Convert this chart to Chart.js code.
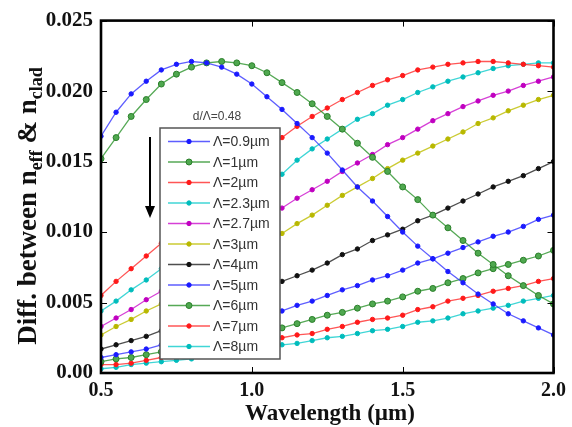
<!DOCTYPE html>
<html>
<head>
<meta charset="utf-8">
<script src="https://cdn.jsdelivr.net/npm/chart.js@4.4.1/dist/chart.umd.min.js"></script>
<style>
  html, body { margin: 0; padding: 0; background: #fff; }
  canvas { display: block; }
</style>
</head>
<body>
<canvas id="nChart" width="572" height="427"></canvas>
<script>
// wavelength samples (um)
var wavelength = [0.5, 0.55, 0.6, 0.65, 0.7, 0.75, 0.8, 0.85, 0.9, 0.95, 1.0, 1.05, 1.1, 1.15, 1.2, 1.25,
  1.3, 1.35, 1.4, 1.45, 1.5, 1.55, 1.6, 1.65, 1.7, 1.75, 1.8, 1.85, 1.9, 1.95, 2.0];

var seriesLabels = ['Λ=0.9µm', 'Λ=1µm', 'Λ=2µm', 'Λ=2.3µm', 'Λ=2.7µm', 'Λ=3µm', 'Λ=4µm', 'Λ=5µm', 'Λ=6µm', 'Λ=7µm', 'Λ=8µm'];

var pitch09 = [0.0168, 0.0185, 0.0198, 0.0207, 0.0215, 0.0219, 0.0221, 0.0220, 0.0217, 0.0212, 0.0205, 0.0196, 0.0187, 0.0177, 0.0167, 0.0156,
  0.0144, 0.0132, 0.0122, 0.0111, 0.0100, 0.0090, 0.0081, 0.0072, 0.0064, 0.0056, 0.0049, 0.0042, 0.0037, 0.0032, 0.0027];
var pitch1 = [0.0152, 0.0167, 0.0182, 0.0194, 0.0205, 0.0212, 0.0217, 0.0220, 0.0221, 0.0220, 0.0218, 0.0213, 0.0206, 0.0199, 0.0191, 0.0182,
  0.0173, 0.0163, 0.0153, 0.0143, 0.0132, 0.0123, 0.0112, 0.0103, 0.0094, 0.0085, 0.0077, 0.0069, 0.0062, 0.0055, 0.0049];
var pitch2 = [0.0055, 0.0065, 0.0074, 0.0083, 0.0092, 0.0101, 0.0110, 0.0119, 0.0128, 0.0137, 0.0146, 0.0156, 0.0167, 0.0175, 0.0182, 0.0188,
  0.0194, 0.0199, 0.0204, 0.0208, 0.0211, 0.0215, 0.0217, 0.0219, 0.0220, 0.0221, 0.0221, 0.0220, 0.0219, 0.0218, 0.0217];
var pitch23 = [0.0044, 0.0051, 0.0059, 0.0066, 0.0074, 0.0082, 0.0090, 0.0098, 0.0107, 0.0115, 0.0124, 0.0132, 0.0141, 0.0151, 0.0159, 0.0166,
  0.0173, 0.0180, 0.0184, 0.0190, 0.0194, 0.0199, 0.0203, 0.0207, 0.0210, 0.0213, 0.0216, 0.0218, 0.0219, 0.0220, 0.0220];
var pitch27 = [0.0033, 0.0039, 0.0045, 0.0052, 0.0058, 0.0065, 0.0072, 0.0079, 0.0087, 0.0095, 0.0102, 0.0110, 0.0117, 0.0124, 0.0130, 0.0136,
  0.0143, 0.0149, 0.0155, 0.0162, 0.0167, 0.0173, 0.0179, 0.0184, 0.0189, 0.0193, 0.0197, 0.0200, 0.0204, 0.0207, 0.0210];
var pitch3 = [0.0027, 0.0033, 0.0038, 0.0044, 0.0049, 0.0055, 0.0060, 0.0066, 0.0072, 0.0079, 0.0085, 0.0092, 0.0099, 0.0106, 0.0112, 0.0119,
  0.0126, 0.0132, 0.0138, 0.0145, 0.0151, 0.0156, 0.0161, 0.0166, 0.0171, 0.0177, 0.0181, 0.0186, 0.0190, 0.0194, 0.0197];
var pitch4 = [0.0017, 0.0020, 0.0023, 0.0026, 0.0030, 0.0034, 0.0038, 0.0042, 0.0047, 0.0051, 0.0055, 0.0060, 0.0065, 0.0069, 0.0073, 0.0078,
  0.0084, 0.0088, 0.0094, 0.0098, 0.0102, 0.0108, 0.0112, 0.0117, 0.0122, 0.0127, 0.0132, 0.0136, 0.0140, 0.0145, 0.0150];
var pitch5 = [0.0011, 0.0013, 0.0015, 0.0017, 0.0020, 0.0023, 0.0026, 0.0029, 0.0032, 0.0035, 0.0038, 0.0041, 0.0044, 0.0048, 0.0051, 0.0055,
  0.0059, 0.0062, 0.0066, 0.0069, 0.0073, 0.0078, 0.0081, 0.0085, 0.0089, 0.0093, 0.0097, 0.0100, 0.0104, 0.0109, 0.0112];
var pitch6 = [0.0008, 0.0010, 0.0011, 0.0013, 0.0015, 0.0017, 0.0019, 0.0021, 0.0024, 0.0026, 0.0028, 0.0030, 0.0032, 0.0035, 0.0038, 0.0041,
  0.0043, 0.0046, 0.0049, 0.0051, 0.0054, 0.0058, 0.0060, 0.0064, 0.0067, 0.0071, 0.0074, 0.0077, 0.0080, 0.0083, 0.0087];
var pitch7 = [0.0006, 0.0006, 0.0007, 0.0009, 0.0011, 0.0013, 0.0014, 0.0016, 0.0018, 0.0020, 0.0022, 0.0024, 0.0025, 0.0027, 0.0028, 0.0031,
  0.0033, 0.0036, 0.0038, 0.0039, 0.0041, 0.0045, 0.0047, 0.0051, 0.0053, 0.0055, 0.0058, 0.0060, 0.0062, 0.0065, 0.0067];
var pitch8 = [0.0003, 0.0004, 0.0006, 0.0007, 0.0008, 0.0009, 0.0010, 0.0012, 0.0013, 0.0015, 0.0017, 0.0018, 0.0020, 0.0021, 0.0023, 0.0025,
  0.0026, 0.0028, 0.0030, 0.0031, 0.0033, 0.0036, 0.0037, 0.0039, 0.0042, 0.0044, 0.0046, 0.0048, 0.0051, 0.0053, 0.0055];

var allSeries = [pitch09, pitch1, pitch2, pitch23, pitch27, pitch3, pitch4, pitch5, pitch6, pitch7, pitch8];

var xTicks = [0.5, 1.0, 1.5, 2.0];
var yTicks = [0, 0.005, 0.010, 0.015, 0.020, 0.025];

// line colour, marker fill, marker edge, marker radius
var styles = [
  ['rgba(40,40,255,0.75)', '#1a1aff', '#1a1aff', 2.2],
  ['rgba(30,140,30,0.75)', '#4fa84f', '#2a7f2a', 3.0],
  ['rgba(255,30,30,0.75)', '#ff1a1a', '#ff1a1a', 2.2],
  ['rgba(0,200,200,0.75)', '#00bcbc', '#00bcbc', 2.2],
  ['rgba(200,0,200,0.75)', '#c000c0', '#c000c0', 2.2],
  ['rgba(190,190,0,0.8)', '#b8b800', '#b8b800', 2.2],
  ['rgba(20,20,20,0.75)', '#111', '#111', 2.2],
  ['rgba(40,40,255,0.75)', '#1a1aff', '#1a1aff', 2.2],
  ['rgba(30,140,30,0.75)', '#4fa84f', '#2a7f2a', 3.0],
  ['rgba(255,30,30,0.75)', '#ff1a1a', '#ff1a1a', 2.2],
  ['rgba(0,200,200,0.75)', '#00bcbc', '#00bcbc', 2.2]
];

var datasets = allSeries.map(function (vals, i) {
  return {
    label: seriesLabels[i],
    data: vals.map(function (v, j) { return { x: wavelength[j], y: v }; }),
    borderColor: styles[i][0],
    borderWidth: 1.3,
    backgroundColor: styles[i][1],
    pointBackgroundColor: styles[i][1],
    pointBorderColor: styles[i][2],
    pointBorderWidth: 1,
    pointRadius: styles[i][3],
    showLine: true,
    tension: 0
  };
});

var serif = '"Liberation Serif", "Times New Roman", serif';
var sans = '"Liberation Sans", Arial, sans-serif';

// draws the legend box, annotation, frame, inward ticks and axis titles
var decorations = {
  id: 'decorations',
  afterDatasetsDraw: function (chart) {
    var c = chart.ctx;
    c.save();
    // legend box
    var bx = 160, by = 128, bw = 120, bh = 231;
    c.fillStyle = '#fff';
    c.fillRect(bx, by, bw, bh);
    c.strokeStyle = '#555';
    c.lineWidth = 1.5;
    c.strokeRect(bx, by, bw, bh);
    chart.data.datasets.forEach(function (ds, i) {
      var ry = 141.5 + i * 20.5;
      c.strokeStyle = ds.borderColor;
      c.lineWidth = 1.6;
      c.beginPath();
      c.moveTo(168, ry);
      c.lineTo(210, ry);
      c.stroke();
      c.fillStyle = ds.pointBackgroundColor;
      c.strokeStyle = ds.pointBorderColor;
      c.lineWidth = 1;
      c.beginPath();
      c.arc(189, ry, ds.pointRadius, 0, Math.PI * 2);
      c.fill();
      c.stroke();
      c.fillStyle = '#333';
      c.font = '14px ' + sans;
      c.textAlign = 'left';
      c.textBaseline = 'middle';
      c.fillText(ds.label, 213, ry + 1);
    });
    // annotation above legend
    c.fillStyle = '#444';
    c.font = '12px ' + sans;
    c.textAlign = 'center';
    c.textBaseline = 'middle';
    c.fillText('d/Λ=0.48', 217, 117);
    // arrow
    c.strokeStyle = '#000';
    c.lineWidth = 2;
    c.beginPath();
    c.moveTo(150, 137);
    c.lineTo(150, 208);
    c.stroke();
    c.fillStyle = '#000';
    c.beginPath();
    c.moveTo(145, 206);
    c.lineTo(155, 206);
    c.lineTo(150, 218);
    c.closePath();
    c.fill();
    c.restore();
  },
  afterDraw: function (chart) {
    var c = chart.ctx;
    var a = chart.chartArea;
    var xs = chart.scales.x, ys = chart.scales.y;
    c.save();
    c.strokeStyle = '#000';
    c.lineWidth = 1;
    yTicks.forEach(function (t) {
      var py = Math.round(ys.getPixelForValue(t)) + 0.5;
      c.beginPath();
      c.moveTo(a.left, py); c.lineTo(a.left + 6, py);
      c.moveTo(a.right, py); c.lineTo(a.right - 6, py);
      c.stroke();
    });
    xTicks.forEach(function (t) {
      var px = Math.round(xs.getPixelForValue(t)) + 0.5;
      c.beginPath();
      c.moveTo(px, a.bottom); c.lineTo(px, a.bottom - 6);
      c.moveTo(px, a.top); c.lineTo(px, a.top + 6);
      c.stroke();
    });
    c.lineWidth = 2.6;
    c.strokeRect(a.left, a.top, a.right - a.left, a.bottom - a.top);

    // x title
    c.fillStyle = '#111';
    c.font = 'bold 23px ' + serif;
    c.textAlign = 'center';
    c.textBaseline = 'alphabetic';
    c.fillText('Wavelength (µm)', 330, 420);

    // y title with subscripts
    var parts = [['Diff. between n', 27, 0], ['eff', 18, 6], [' & n', 27, 0], ['clad', 18, 6]];
    var total = 0;
    parts.forEach(function (p) {
      c.font = 'bold ' + p[1] + 'px ' + serif;
      p.push(c.measureText(p[0]).width);
      total += p[3];
    });
    c.translate(36, 206);
    c.rotate(-Math.PI / 2);
    c.textAlign = 'left';
    var pos = -total / 2;
    parts.forEach(function (p) {
      c.font = 'bold ' + p[1] + 'px ' + serif;
      c.fillText(p[0], pos, p[2]);
      pos += p[3];
    });
    c.restore();
  }
};

var ctx = document.getElementById('nChart').getContext('2d');
var nChart = new Chart(ctx, {
  type: 'scatter',
  data: { datasets: datasets },
  options: {
    responsive: false,
    animation: false,
    layout: { padding: { top: 16, right: 17, left: 0, bottom: 0 } },
    scales: {
      x: {
        type: 'linear',
        min: 0.5,
        max: 2.0,
        afterFit: function (s) { s.height = 54; },
        afterBuildTicks: function (s) { s.ticks = xTicks.map(function (v) { return { value: v }; }); },
        grid: { display: false, drawTicks: false },
        border: { display: false },
        ticks: {
          padding: 6,
          color: '#111',
          font: { family: serif, size: 20, weight: 'bold' },
          callback: function (v) { return v.toFixed(1); }
        }
      },
      y: {
        min: 0,
        max: 0.025,
        afterFit: function (s) { s.width = 101; },
        afterBuildTicks: function (s) { s.ticks = yTicks.map(function (v) { return { value: v }; }); },
        grid: { display: false, drawTicks: false },
        border: { display: false },
        ticks: {
          padding: 8,
          color: '#111',
          font: { family: serif, size: 21, weight: 'bold' },
          callback: function (v) { return v === 0 ? '0.00' : v.toFixed(3); }
        }
      }
    },
    plugins: {
      legend: { display: false },
      tooltip: { enabled: false }
    }
  },
  plugins: [decorations]
});
</script>
</body>
</html>
